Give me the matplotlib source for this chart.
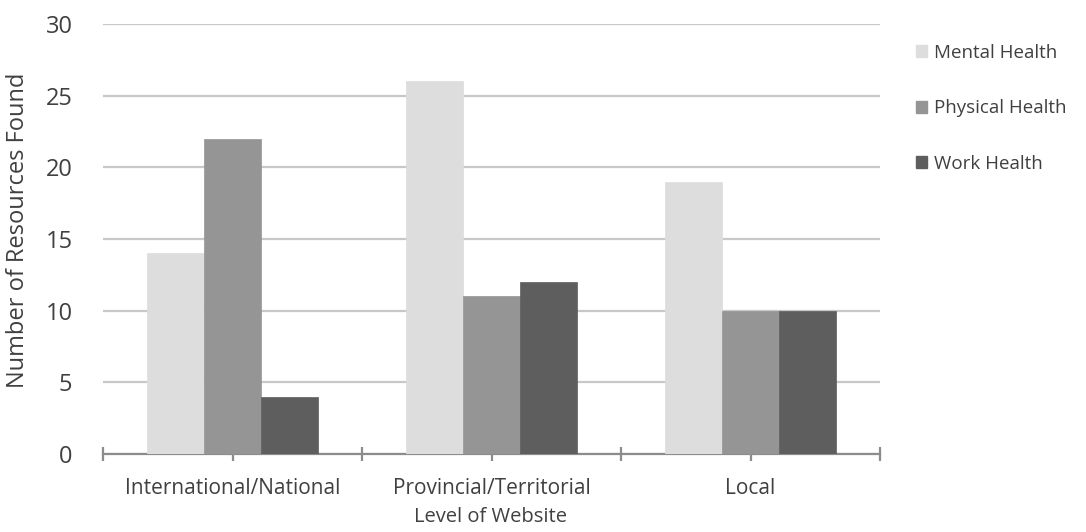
import matplotlib
matplotlib.use("Agg")
import matplotlib.pyplot as plt
from matplotlib.patches import Patch
import numpy as np

categories = ["International/National", "Provincial/Territorial", "Local"]
series_names = ["Mental Health", "Physical Health", "Work Health"]
mental = [14, 26, 19]
physical = [22, 11, 10]
work = [4, 12, 10]
y_ticks = [0, 5, 10, 15, 20, 25, 30]

colors = ["#dddddd", "#959595", "#5e5e5e"]
plt.rcParams['font.family'] = ['Open Sans', 'DejaVu Sans']

fig = plt.figure(figsize=(10.86, 5.32), dpi=100)
ax = fig.add_axes([103/1086, 78/532, 777/1086, 430/532])

x = np.arange(len(categories))
w = 0.22
for i, (vals, c) in enumerate(zip([mental, physical, work], colors)):
    ax.bar(x + (i - 1) * w, vals, width=w, color=c, edgecolor=c, linewidth=0.5, zorder=3)

ax.set_xlim(-0.5, 2.5)
ax.set_ylim(0, 30)
ax.set_yticks(y_ticks)
ax.yaxis.grid(True, color="#c8c8c8", linewidth=1.6, zorder=0)
ax.set_axisbelow(True)
for s in ["top", "right", "left"]:
    ax.spines[s].set_visible(False)
ax.spines["bottom"].set_color("#8c8c8c")
ax.spines["bottom"].set_linewidth(1.6)

ax.set_xticks(x)
ax.set_xticklabels(categories)
ax.set_xticks([-0.5, 0.5, 1.5, 2.5], minor=True)
ax.tick_params(axis="x", which="both", direction="inout", length=10, width=1.6, color="#8c8c8c")
ax.tick_params(axis="x", which="major", pad=12, labelsize=15, labelcolor="#404040")
ax.tick_params(axis="y", length=0, pad=22, labelsize=17, labelcolor="#404040")

ax.set_ylabel("Number of Resources Found", fontsize=17, color="#404040")
ax.yaxis.set_label_coords(-0.109, 0.52)
ax.yaxis.label.set_va("center")
ax.set_xlabel("Level of Website", fontsize=14.5, color="#404040")
ax.xaxis.set_label_coords(0.499, -0.1465)
ax.xaxis.label.set_va("center")

handles = [Patch(facecolor=c, edgecolor=c) for c in colors]
fig.legend(handles, series_names, loc="upper left", bbox_to_anchor=(899/1086, 1 - 27/532),
           frameon=False, fontsize=13.5, handlelength=0.6, handleheight=0.6,
           handletextpad=0.35, labelspacing=2.0, labelcolor="#404040")

fig.savefig("out.png", dpi=100)
